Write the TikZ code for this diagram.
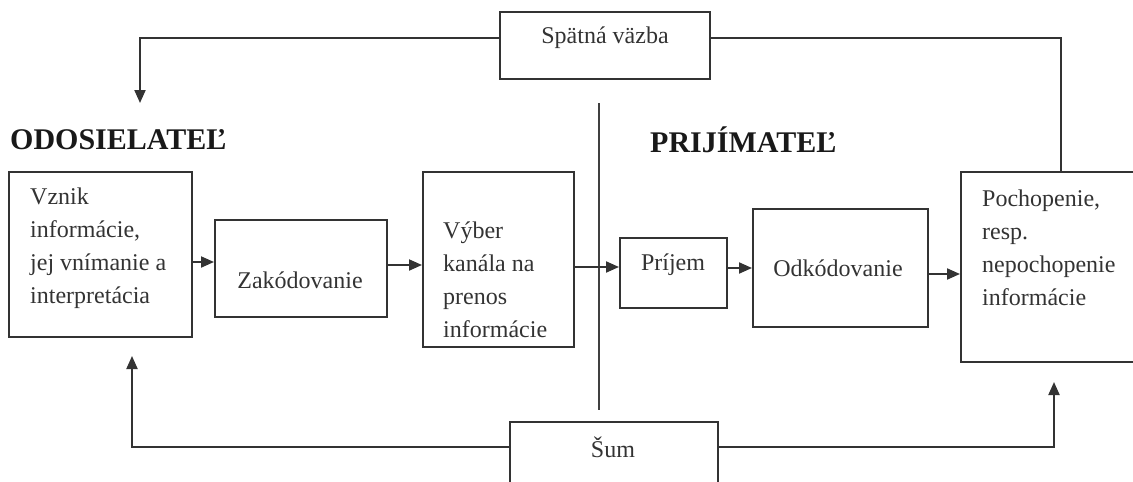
\documentclass[tikz,border=0pt]{standalone}
\usepackage{fontspec}
\setmainfont{Liberation Serif}
\usetikzlibrary{positioning,arrows.meta}

\begin{document}
\begin{tikzpicture}[x=1pt, y=-1pt,
        box/.style={draw=black!80, line width=2pt, inner sep=0pt},
        txt/.style={text=black!80, font=\fontsize{24}{33}\selectfont, inner sep=0pt, align=left},
        title/.style={text=black!90, font=\fontsize{30}{32}\selectfont\bfseries, inner sep=0pt},
        link/.style={draw=black!80, line width=2pt},
        arr/.style={link, -{Triangle[length=13pt,width=11pt]}}]
        \useasboundingbox (0,0) rectangle (1133,482);

        % feedback box and headings
        \node[box, minimum width=210pt, minimum height=67pt] (fb) at (605,45.5) {};
        \node[txt] (fbt) at (605,38) {Spätná väzba};
        \node[title, anchor=west] (odos) at (10,140) {ODOSIELATEĽ};
        \node[title, anchor=west] (prij) at (650,140) {PRIJÍMATEĽ};

        \draw[black!75, line width=1.5pt] (599,103) -- (599,410);

        % sender side
        \node[box, minimum width=183pt, minimum height=165pt] (vznik) at (100.5,254.5) {};
        \node[txt, anchor=west] (vznikt) at (30,248) {Vznik\\informácie,\\jej vnímanie a\\interpretácia};

        \node[box, minimum width=172pt, minimum height=97pt] (zakod) at (301,268.5) {};
        \node[txt] (zakodt) at (300,280) {Zakódovanie};

        \node[box, minimum width=151pt, minimum height=175pt] (vyber) at (498.5,259.5) {};
        \node[txt, anchor=west] (vybert) at (443,280) {Výber\\kanála na\\prenos\\informácie};

        % receiver side
        \node[box, minimum width=107pt, minimum height=70pt] (prijem) at (673.5,273) {};
        \node[txt] (prijemt) at (673,265) {Príjem};

        \node[box, minimum width=175pt, minimum height=118pt] (odkod) at (840.5,268) {};
        \node[txt] (odkodt) at (838,268) {Odkódovanie};

        \node[box, minimum width=200pt, minimum height=190pt] (poch) at (1061,267) {};
        \node[txt, anchor=west] (pocht) at (982,248) {Pochopenie,\\resp.\\nepochopenie\\informácie};

        % noise
        \node[box, minimum width=208pt, minimum height=78pt] (sum) at (614,461) {};
        \node[txt] (sumt) at (613,447) {Šum};

        % flow
        \draw[arr] ([yshift=-7.5pt]vznik.east) -- ([yshift=6.5pt]zakod.west);
        \draw[arr] ([yshift=3.5pt]zakod.east) -- ([yshift=-5.5pt]vyber.west);
        \draw[arr] ([yshift=-7.5pt]vyber.east) -- ([yshift=6pt]prijem.west);
        \draw[arr] ([yshift=5pt]prijem.east) -- (odkod.west);
        \draw[arr] ([yshift=-6pt]odkod.east) -- ([yshift=-7pt]poch.west);

        \coordinate (fbend) at (140,103);
        \draw[arr] (fb.west |- fbt) -| (fbend);
        \draw[link] (fb.east |- fbt) -| (poch.north);

        \coordinate (sumL) at (132,356);
        \coordinate (sumR) at (1054,382);
        \draw[arr] (sum.west |- sumt) -| (sumL);
        \draw[arr] (sum.east |- sumt) -| (sumR);
\end{tikzpicture}
\end{document}
